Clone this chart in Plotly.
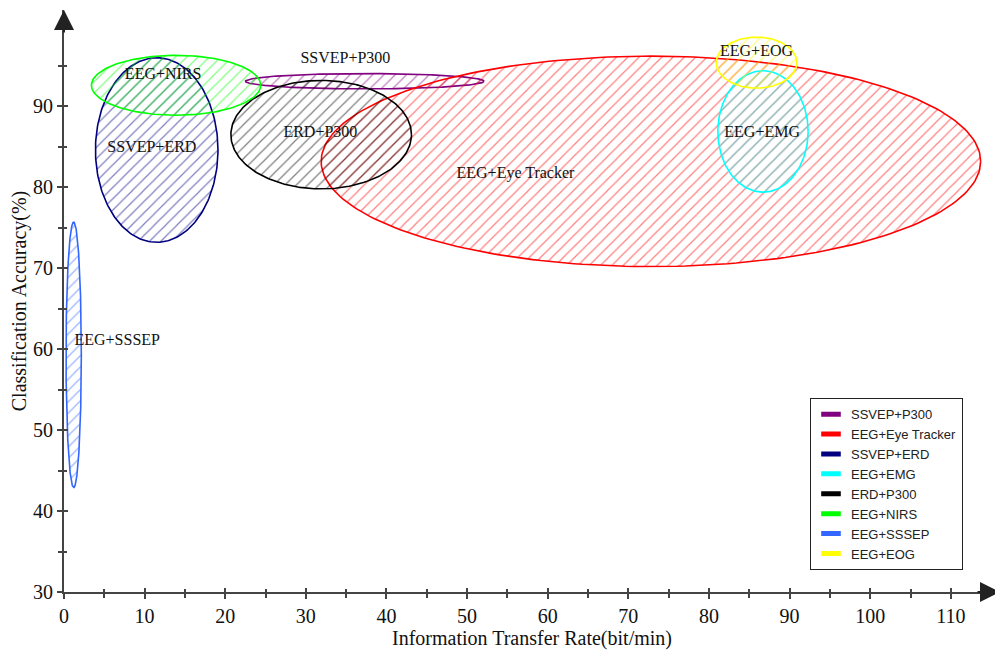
import numpy as np
import plotly.graph_objects as go

# ---- data ----
names = ["SSVEP+P300", "EEG+Eye Tracker", "SSVEP+ERD", "EEG+EMG",
         "ERD+P300", "EEG+NIRS", "EEG+SSSEP", "EEG+EOG"]
colors = ["#800080", "#FF0000", "#000080", "#00FFFF",
          "#000000", "#00FF00", "#3366FF", "#FFFF00"]
# ellipse centre (ITR, accuracy) and half-ranges
center_itr = [37.3, 72.8, 11.5, 86.7, 31.9, 13.9, 1.2, 85.9]
center_acc = [93.1, 83.2, 84.6, 86.9, 86.5, 92.6, 59.3, 95.4]
half_itr = [14.8, 40.9, 7.6, 5.6, 11.2, 10.5, 0.95, 5.0]
half_acc = [0.95, 13.0, 11.4, 7.5, 6.7, 3.7, 16.4, 3.15]
# label anchor positions
label_x = [34.9, 56.0, 10.9, 86.6, 31.8, 12.3, 6.6, 85.9]
label_y = [95.9, 81.7, 84.8, 86.7, 86.7, 93.9, 61.0, 96.7]

x_ticks = list(range(0, 111, 10))
x_minor = list(range(5, 106, 10))
y_ticks = list(range(30, 91, 10))
y_minor = list(range(35, 96, 10))

X_MAX = 116.1
Y_MAX = 101.9

fig = go.Figure()
t = np.linspace(0, 2 * np.pi, 241)
for n, c, cx, cy, rx, ry in zip(names, colors, center_itr, center_acc, half_itr, half_acc):
    fig.add_trace(go.Scatter(
        x=cx + rx * np.cos(t), y=cy + ry * np.sin(t),
        mode="lines", line=dict(color=c, width=1.6),
        fill="toself", fillcolor="rgba(0,0,0,0)",
        fillpattern=dict(shape="/", fgcolor=c, bgcolor="rgba(0,0,0,0)",
                         size=8, solidity=0.15),
        showlegend=False, hoverinfo="skip"))

# legend-only entries
for n, c in zip(names, colors):
    fig.add_trace(go.Scatter(
        x=[None], y=[None], mode="markers", name=n,
        marker=dict(symbol="line-ew", size=14, color=c,
                    line=dict(color=c, width=8))))

fig.add_trace(go.Scatter(
    x=label_x, y=label_y, mode="text", text=names,
    textfont=dict(family="Liberation Serif", size=16, color="#111"),
    showlegend=False, hoverinfo="skip"))

axis_col = "#444444"
fig.update_layout(
    width=1003, height=654,
    margin=dict(l=56, r=11, t=2, b=70),
    plot_bgcolor="white", paper_bgcolor="white",
    font=dict(family="Liberation Serif", color="#111"),
    xaxis=dict(range=[0, X_MAX], showgrid=False, zeroline=False,
               showline=True, linecolor=axis_col, linewidth=2,
               tickmode="array", tickvals=x_ticks,
               ticks="outside", ticklen=5, tickwidth=1.5, tickcolor=axis_col,
               minor=dict(tickmode="array", tickvals=x_minor, ticks="outside",
                          ticklen=4, tickwidth=1.5, tickcolor=axis_col),
               tickfont=dict(family="Liberation Serif", size=20, color="#111"),
               title=dict(text="Information Transfer Rate(bit/min)", standoff=2,
                          font=dict(family="Liberation Serif", size=20, color="#111"))),
    yaxis=dict(range=[30, Y_MAX], showgrid=False, zeroline=False,
               showline=True, linecolor=axis_col, linewidth=2,
               tickmode="array", tickvals=y_ticks,
               ticks="outside", ticklen=5, tickwidth=1.5, tickcolor=axis_col,
               minor=dict(tickmode="array", tickvals=y_minor, ticks="outside",
                          ticklen=4, tickwidth=1.5, tickcolor=axis_col),
               tickfont=dict(family="Liberation Serif", size=20, color="#111"),
               title=dict(text="Classification Accuracy(%)", standoff=2,
                          font=dict(family="Liberation Serif", size=20, color="#111"))),
    xaxis2=dict(range=[0, X_MAX], overlaying="x", showgrid=False, zeroline=False,
                tickmode="array", tickvals=x_ticks, ticks="inside", ticklen=4,
                tickwidth=1.5, tickcolor=axis_col, showticklabels=False,
                minor=dict(tickmode="array", tickvals=x_minor, ticks="inside",
                           ticklen=3, tickwidth=1.5, tickcolor=axis_col)),
    yaxis2=dict(range=[30, Y_MAX], overlaying="y", showgrid=False, zeroline=False,
                tickmode="array", tickvals=y_ticks, ticks="inside", ticklen=4,
                tickwidth=1.5, tickcolor=axis_col, showticklabels=False,
                minor=dict(tickmode="array", tickvals=y_minor, ticks="inside",
                           ticklen=3, tickwidth=1.5, tickcolor=axis_col)),
    legend=dict(x=0.797, y=0.333, xanchor="left", yanchor="top",
                bordercolor="#222", borderwidth=1, bgcolor="white",
                font=dict(family="Liberation Sans", size=13, color="#222"),
                tracegroupgap=0, itemwidth=30,
                entrywidth=150, entrywidthmode="pixels"),
)

# dummy trace to activate overlay axes
fig.add_trace(go.Scatter(x=[None], y=[None], xaxis="x2", yaxis="y2",
                         showlegend=False, hoverinfo="skip"))

# axis arrowheads
fig.add_annotation(x=X_MAX, y=30, ax=-24, ay=0, xref="x", yref="y",
                   showarrow=True, arrowhead=2, arrowsize=2.0, arrowwidth=2,
                   arrowcolor="#222", text="")
fig.add_annotation(x=0, y=Y_MAX, ax=0, ay=24, xref="x", yref="y",
                   showarrow=True, arrowhead=2, arrowsize=2.0, arrowwidth=2,
                   arrowcolor="#222", text="")

fig.write_html("out.html")
